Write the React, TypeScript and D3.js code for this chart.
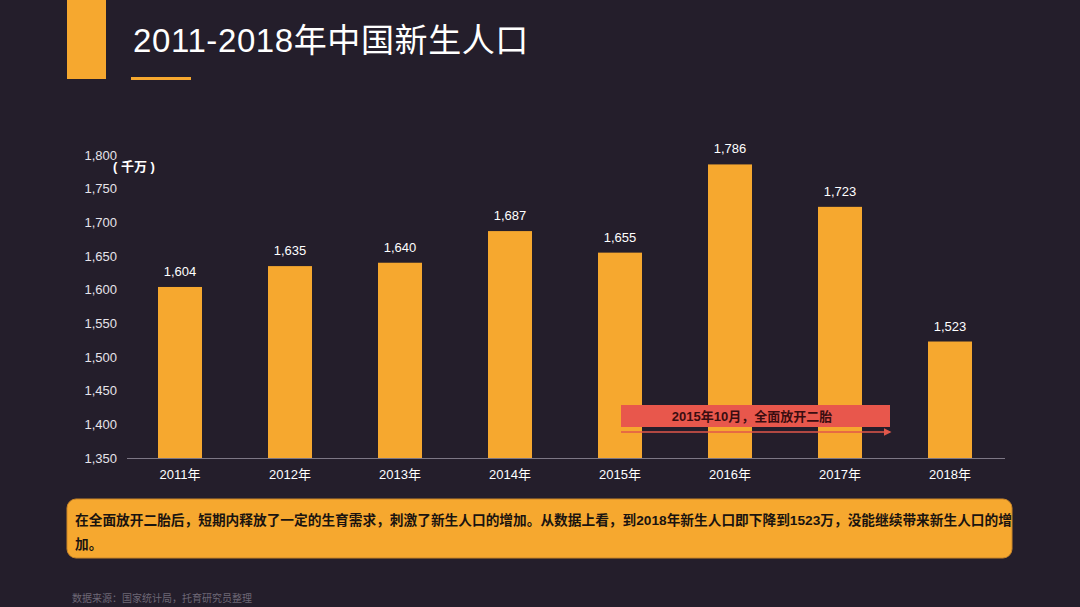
import React from "react";
import * as d3 from "d3";

const years = ["2011年", "2012年", "2013年", "2014年", "2015年", "2016年", "2017年", "2018年"];
const births = [1604, 1635, 1640, 1687, 1655, 1786, 1723, 1523];
const yTicks = [1350, 1400, 1450, 1500, 1550, 1600, 1650, 1700, 1750, 1800];
const title = "2011-2018年中国新生人口";
const unitLabel = "( 千万 )";
const annotation = "2015年10月，全面放开二胎";
const noteLines = [
  "在全面放开二胎后，短期内释放了一定的生育需求，刺激了新生人口的增加。从数据上看，到2018年新生人口即下降到1523万，没能继续带来新生人口的增",
  "加。",
];
const source = "数据来源：国家统计局，托育研究员整理";

const W = 1080;
const H = 607;
const BG = "#241e2b";
const ORANGE = "#f6a82f";
const FONT = "'Liberation Sans', 'Noto Sans CJK SC', sans-serif";

export default function App() {
  const x = d3.scaleBand<string>().domain(years).range([125, 1005]).paddingInner(0.6).paddingOuter(0.3);
  const y = d3.scaleLinear().domain([1350, 1800]).range([458, 155]);
  const fmt = d3.format(",");
  const bw = x.bandwidth();
  const annX0 = (x("2015年") as number) + bw / 2 + 1;

  return (
    <svg width={W} height={H} style={{ display: "block", position: "absolute", left: 0, top: 0 }} fontFamily={FONT}>
      <defs>
        <marker id="arr" viewBox="0 0 10 10" refX="8" refY="5" markerWidth="5" markerHeight="5" orient="auto">
          <path d="M0,0 L10,5 L0,10 z" fill="#e0574b" />
        </marker>
      </defs>
      <rect width={W} height={H} fill={BG} />
      <rect x={67} y={0} width={39} height={79} fill={ORANGE} />
      <text x={133} y={52} fill="#ffffff" fontSize={33} letterSpacing={0.6}>{title}</text>
      <rect x={131} y={77} width={60} height={3} fill={ORANGE} />

      {yTicks.map((t) => (
        <text key={t} x={117} y={y(t)} dy="0.35em" textAnchor="end" fill="#e6e3ea" fontSize={13}>
          {fmt(t)}
        </text>
      ))}
      <text x={113} y={166} dy="0.35em" fill="#ffffff" fontSize={13} fontWeight="bold">{unitLabel}</text>

      <line x1={annX0 - 8} x2={annX0 - 8} y1={270} y2={456} stroke="#f5c070" strokeOpacity={0.35} strokeDasharray="2,2" />

      {years.map((yr, i) => (
        <g key={yr}>
          <rect x={x(yr)} y={y(births[i])} width={bw} height={y(1350) - y(births[i])} fill={ORANGE} />
          <text x={(x(yr) as number) + bw / 2} y={y(births[i]) - 11} textAnchor="middle" fill="#ffffff" fontSize={13}>
            {fmt(births[i])}
          </text>
          <text x={(x(yr) as number) + bw / 2} y={479} textAnchor="middle" fill="#ffffff" fontSize={13}>
            {yr}
          </text>
        </g>
      ))}
      <line x1={127} x2={1005} y1={458.5} y2={458.5} stroke="#7d7785" strokeWidth={1} />

      <rect x={621} y={405} width={269} height={22} fill="#e8574c" />
      <text x={752} y={416} dy="0.35em" textAnchor="middle" fill="#3a0d10" fontSize={13} fontWeight="bold">
        {annotation}
      </text>
      <line x1={621} x2={890} y1={432} y2={432} stroke="#e0574b" strokeWidth={1.5} markerEnd="url(#arr)" />

      <rect x={67} y={499} width={945} height={59} rx={9} fill={ORANGE} stroke="#c9862a" strokeWidth={1} />
      {noteLines.map((l, i) => (
        <text key={i} x={75} y={520 + i * 24} dy="0.35em" fill="#1a1410" fontSize={13.7} fontWeight="bold">
          {l}
        </text>
      ))}
      <text x={72} y={598} dy="0.35em" fill="#6e6876" fontSize={10}>{source}</text>
    </svg>
  );
}
